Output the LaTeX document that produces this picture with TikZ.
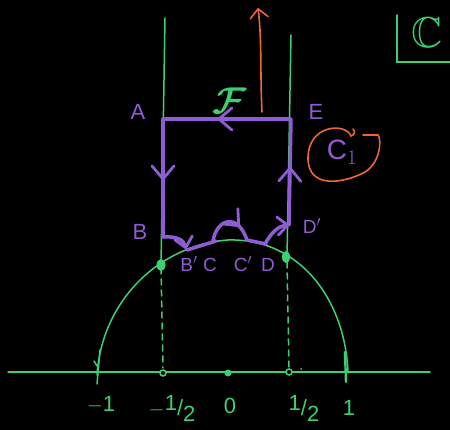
\documentclass[tikz,border=0pt]{standalone}
\usepackage{amssymb}
\usepackage{bm}
\usepackage{fontspec}
\setsansfont{Liberation Sans}
\usetikzlibrary{decorations.markings,arrows.meta}
\definecolor{gr}{HTML}{3CD070}
\definecolor{pu}{HTML}{8F5CD6}
\definecolor{orr}{HTML}{F0643C}
\begin{document}
\begin{tikzpicture}[x=1pt,y=-1pt,
 gline/.style={draw=gr,line width=1.5pt,line cap=round},
 pline/.style={draw=pu,line width=3.5pt,line cap=round,line join=round},
 oline/.style={draw=orr,line width=1.6pt,line cap=round},
 plab/.style={text=pu,font=\sffamily\fontsize{22}{24}\selectfont,inner sep=0pt},
 pslab/.style={text=pu,font=\sffamily\fontsize{19}{21}\selectfont,inner sep=0pt},
 glab/.style={text=gr,font=\sffamily\fontsize{22}{24}\selectfont,inner sep=0pt},
 midarrow/.style={postaction={decorate},decoration={markings,mark=at position #1 with {\arrow{Straight Barb[length=13pt,width=22pt,line width=2.8pt,round]}}}},
 endarrow/.style={-{Straight Barb[length=10pt,width=18pt,line width=2.8pt,round]}}
]
\fill[black] (0,0) rectangle (450,430);
\useasboundingbox (0,0) rectangle (450,430);

% axis
\draw[gline] (8,372) -- (430,372);
\draw[gline] (100,350) -- (97,384);
\draw[gline] (94,361) -- (97,366);
\draw[gline,line width=2.4pt] (345,352) -- (346,382);
\draw[gline,fill=black] (163,373) circle (3pt);
\fill[gr] (228,373) circle (3.5pt);
\draw[gline,fill=black] (289,372) circle (3pt);
\fill[gr] (301,369) circle (1pt);

% unit circle arc
\draw[gline] (97,375) .. controls (102,300) and (160,245) .. (228,240)
  .. controls (300,238) and (345,300) .. (348,372);

% vertical green lines
\draw[gline] (165,18) -- (161,265);
\draw[gline] (291,35) -- (287,257);
\draw[gline,dashed,dash pattern=on 6pt off 5pt] (161,268) -- (163,368);
\draw[gline,dashed,dash pattern=on 6pt off 5pt] (287,262) -- (289,368);
\fill[gr] (161,265) ellipse (4.5pt and 6pt);
\fill[gr] (286,257) ellipse (4pt and 6pt);

% purple contour
\draw[pline,midarrow=0.58] (290,119) -- (165,119);
\draw[pline,midarrow=0.52] (163,119) -- (163,237);
\draw[pline,endarrow] (163,237) .. controls (177,236) and (184,240) .. (186,249);
\draw[pline] (187,250) -- (216,241);
\draw[pline,midarrow=0.72] (213,241) .. controls (217,218) and (238,213) .. (247,240);
\draw[pline] (247,240) -- (266,244);
\draw[pline,endarrow] (265,244) .. controls (271,233) and (278,226) .. (289,225);
\draw[pline,midarrow=0.55] (289,225) -- (291,119);

% orange arrow
\draw[oline,-{Straight Barb[length=9pt,width=18pt,line width=1.6pt,round]}] (262,112) .. controls (260,70) and (262,40) .. (258,8);

% orange loop around C1
\draw[oline] (353,129) .. controls (356,132) and (354,135) .. (351,136)
  .. controls (345,122) and (308,125) .. (308,158)
  .. controls (308,190) and (345,183) .. (365,172)
  .. controls (380,163) and (382,140) .. (378,135) -- (363,135);

% labels
\node[plab] (lA) at (138,112) {A};
\node[plab] (lE) at (316,112) {E};
\node[plab] (lB) at (140,232) {B};
\node[pslab] (lD2) at (312,226) {D$'$};
\node[pslab] (lB2) at (189,264) {B$'$};
\node[pslab] (lC) at (210,265) {C};
\node[pslab] (lC2) at (243,264) {C$'$};
\node[pslab] (lD) at (268,265) {D};
\node[text=pu,font=\sffamily\fontsize{28}{30}\selectfont,inner sep=0pt] (lC1) at (342,152) {C$_1$};
\node[text=gr,font=\fontsize{24}{26}\selectfont,inner sep=0pt] (lF) at (230,101) {\scalebox{1.5}{$\bm{\mathcal{F}}$}};
\node[text=gr,font=\fontsize{24}{26}\selectfont,inner sep=0pt] (lCC) at (427,33) {\scalebox{1.8}{$\mathbb{C}$}};
\draw[gline] (397,15) -- (397,62) -- (450,62);

\node[glab] (n1) at (101,405) {$-$1};
\node[glab] (nh) at (172,408) {$-$\raisebox{5pt}{1}/\raisebox{-6pt}{2}};
\node[glab] (n0) at (230,406) {0};
\node[glab] (ph) at (304,408) {\raisebox{5pt}{1}/\raisebox{-6pt}{2}};
\node[glab] (p1) at (349,408) {1};
\end{tikzpicture}
\end{document}
